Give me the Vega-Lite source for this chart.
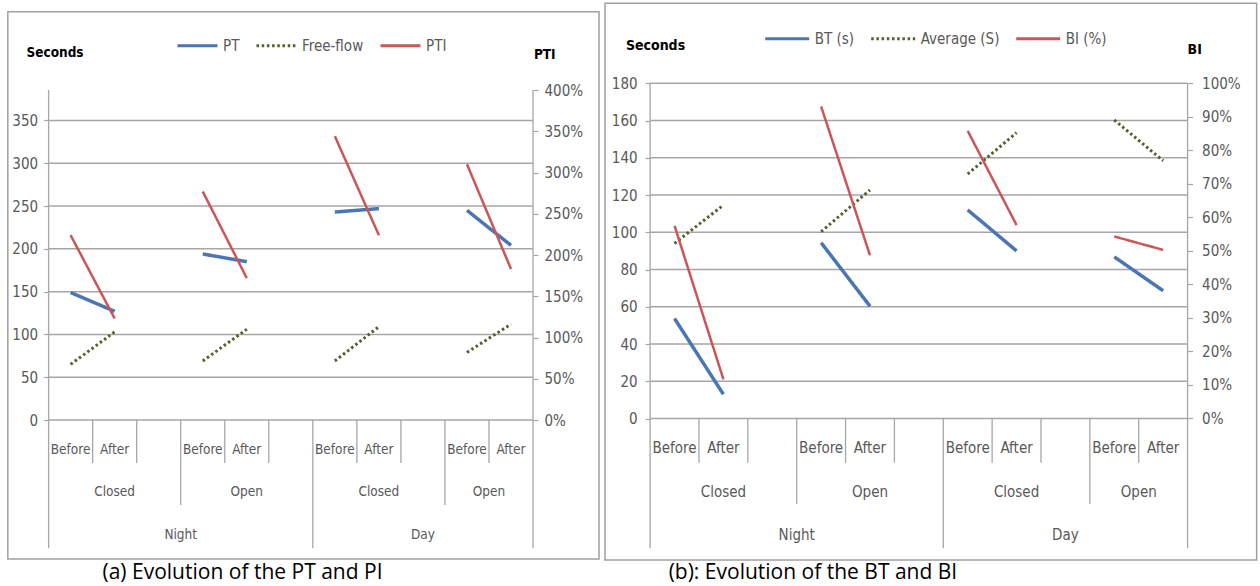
{
  "$schema": "https://vega.github.io/schema/vega-lite/v6.json",
  "background": "white",
  "padding": 0,
  "spacing": 0,
  "config": {
    "view": {"stroke": null},
    "concat": {"spacing": 0},
    "axis": {
      "domain": false,
      "grid": false,
      "title": null,
      "tickSize": 5,
      "tickColor": "#a6a6a6",
      "tickWidth": 1.2,
      "labelFont": "DejaVu Sans Condensed, Liberation Sans, sans-serif",
      "labelFontSize": 15,
      "labelColor": "#595959",
      "labelPadding": 6
    },
    "legend": {
      "labelFont": "DejaVu Sans Condensed, Liberation Sans, sans-serif",
      "labelFontSize": 15,
      "labelColor": "#595959",
      "symbolStrokeWidth": 3,
      "symbolType": "stroke",
      "columnPadding": 10,
      "padding": 0,
      "labelOffset": 4
    }
  },
  "datasets": {
    "linesA": [
      {"series": "PT", "grp": "NC", "x": 0.5, "y": 149}, {"series": "PT", "grp": "NC", "x": 1.5, "y": 127},
      {"series": "PT", "grp": "NO", "x": 3.5, "y": 194}, {"series": "PT", "grp": "NO", "x": 4.5, "y": 185},
      {"series": "PT", "grp": "DC", "x": 6.5, "y": 243}, {"series": "PT", "grp": "DC", "x": 7.5, "y": 247},
      {"series": "PT", "grp": "DO", "x": 9.5, "y": 245}, {"series": "PT", "grp": "DO", "x": 10.5, "y": 204},
      {"series": "Free-flow", "grp": "NC", "x": 0.5, "y": 65}, {"series": "Free-flow", "grp": "NC", "x": 1.5, "y": 103},
      {"series": "Free-flow", "grp": "NO", "x": 3.5, "y": 69}, {"series": "Free-flow", "grp": "NO", "x": 4.5, "y": 106},
      {"series": "Free-flow", "grp": "DC", "x": 6.5, "y": 69}, {"series": "Free-flow", "grp": "DC", "x": 7.5, "y": 109},
      {"series": "Free-flow", "grp": "DO", "x": 9.5, "y": 79}, {"series": "Free-flow", "grp": "DO", "x": 10.5, "y": 112},
      {"series": "PTI", "grp": "NC", "x": 0.5, "y": 2.24}, {"series": "PTI", "grp": "NC", "x": 1.5, "y": 1.23},
      {"series": "PTI", "grp": "NO", "x": 3.5, "y": 2.77}, {"series": "PTI", "grp": "NO", "x": 4.5, "y": 1.72},
      {"series": "PTI", "grp": "DC", "x": 6.5, "y": 3.44}, {"series": "PTI", "grp": "DC", "x": 7.5, "y": 2.24},
      {"series": "PTI", "grp": "DO", "x": 9.5, "y": 3.10}, {"series": "PTI", "grp": "DO", "x": 10.5, "y": 1.83}
    ],
    "linesB": [
      {"series": "BT (s)", "grp": "NC", "x": 0.5, "y": 53.7}, {"series": "BT (s)", "grp": "NC", "x": 1.5, "y": 13},
      {"series": "BT (s)", "grp": "NO", "x": 3.5, "y": 94.4}, {"series": "BT (s)", "grp": "NO", "x": 4.5, "y": 60.3},
      {"series": "BT (s)", "grp": "DC", "x": 6.5, "y": 112}, {"series": "BT (s)", "grp": "DC", "x": 7.5, "y": 90},
      {"series": "BT (s)", "grp": "DO", "x": 9.5, "y": 86.8}, {"series": "BT (s)", "grp": "DO", "x": 10.5, "y": 68.6},
      {"series": "Average (S)", "grp": "NC", "x": 0.5, "y": 94}, {"series": "Average (S)", "grp": "NC", "x": 1.5, "y": 114.6},
      {"series": "Average (S)", "grp": "NO", "x": 3.5, "y": 100.3}, {"series": "Average (S)", "grp": "NO", "x": 4.5, "y": 122.7},
      {"series": "Average (S)", "grp": "DC", "x": 6.5, "y": 131.3}, {"series": "Average (S)", "grp": "DC", "x": 7.5, "y": 153.5},
      {"series": "Average (S)", "grp": "DO", "x": 9.5, "y": 160.3}, {"series": "Average (S)", "grp": "DO", "x": 10.5, "y": 138.4},
      {"series": "BI (%)", "grp": "NC", "x": 0.5, "y": 0.575}, {"series": "BI (%)", "grp": "NC", "x": 1.5, "y": 0.117},
      {"series": "BI (%)", "grp": "NO", "x": 3.5, "y": 0.931}, {"series": "BI (%)", "grp": "NO", "x": 4.5, "y": 0.487},
      {"series": "BI (%)", "grp": "DC", "x": 6.5, "y": 0.858}, {"series": "BI (%)", "grp": "DC", "x": 7.5, "y": 0.577},
      {"series": "BI (%)", "grp": "DO", "x": 9.5, "y": 0.543}, {"series": "BI (%)", "grp": "DO", "x": 10.5, "y": 0.503}
    ],
    "frameA": [{"x": -0.926, "x2": 12.498, "y": -162.4, "y2": 477}],
    "frameB": [{"x": -0.923, "x2": 12.413, "y": -75.98, "y2": 222.96}],
    "gridA": [
      {"x": 0, "x2": 11, "y": 0}, {"x": 0, "x2": 11, "y": 50}, {"x": 0, "x2": 11, "y": 100}, {"x": 0, "x2": 11, "y": 150},
      {"x": 0, "x2": 11, "y": 200}, {"x": 0, "x2": 11, "y": 250}, {"x": 0, "x2": 11, "y": 300}, {"x": 0, "x2": 11, "y": 350}
    ],
    "gridB": [
      {"x": 0, "x2": 11, "y": 0}, {"x": 0, "x2": 11, "y": 20}, {"x": 0, "x2": 11, "y": 40}, {"x": 0, "x2": 11, "y": 60},
      {"x": 0, "x2": 11, "y": 80}, {"x": 0, "x2": 11, "y": 100}, {"x": 0, "x2": 11, "y": 120}, {"x": 0, "x2": 11, "y": 140},
      {"x": 0, "x2": 11, "y": 160}, {"x": 0, "x2": 11, "y": 180}
    ],
    "vrA": [
      {"x": 0, "y": 385.5, "y2": -149.9}, {"x": 11, "y": 385.5, "y2": -149.9}, {"x": 6, "y": 0, "y2": -149.9},
      {"x": 3, "y": 0, "y2": -99.3}, {"x": 9, "y": 0, "y2": -99.3},
      {"x": 1, "y": 0, "y2": -50.2}, {"x": 2, "y": 0, "y2": -50.2}, {"x": 4, "y": 0, "y2": -50.2}, {"x": 5, "y": 0, "y2": -50.2},
      {"x": 7, "y": 0, "y2": -50.2}, {"x": 8, "y": 0, "y2": -50.2}, {"x": 10, "y": 0, "y2": -50.2}
    ],
    "vrB": [
      {"x": 0, "y": 180, "y2": -69.7}, {"x": 11, "y": 180, "y2": -69.7}, {"x": 6, "y": 0, "y2": -69.7},
      {"x": 3, "y": 0, "y2": -45.9}, {"x": 9, "y": 0, "y2": -45.9},
      {"x": 1, "y": 0, "y2": -23.7}, {"x": 2, "y": 0, "y2": -23.7}, {"x": 4, "y": 0, "y2": -23.7}, {"x": 5, "y": 0, "y2": -23.7},
      {"x": 7, "y": 0, "y2": -23.7}, {"x": 8, "y": 0, "y2": -23.7}, {"x": 10, "y": 0, "y2": -23.7}
    ],
    "catA": [
      {"x": 0.5, "y": -35, "text": "Before"}, {"x": 1.5, "y": -35, "text": "After"},
      {"x": 3.5, "y": -35, "text": "Before"}, {"x": 4.5, "y": -35, "text": "After"},
      {"x": 6.5, "y": -35, "text": "Before"}, {"x": 7.5, "y": -35, "text": "After"},
      {"x": 9.5, "y": -35, "text": "Before"}, {"x": 10.5, "y": -35, "text": "After"},
      {"x": 1.5, "y": -84.5, "text": "Closed"}, {"x": 4.5, "y": -84.5, "text": "Open"},
      {"x": 7.5, "y": -84.5, "text": "Closed"}, {"x": 10, "y": -84.5, "text": "Open"},
      {"x": 3, "y": -134.3, "text": "Night"}, {"x": 8.5, "y": -134.3, "text": "Day"}
    ],
    "catB": [
      {"x": 0.5, "y": -16, "text": "Before"}, {"x": 1.5, "y": -16, "text": "After"},
      {"x": 3.5, "y": -16, "text": "Before"}, {"x": 4.5, "y": -16, "text": "After"},
      {"x": 6.5, "y": -16, "text": "Before"}, {"x": 7.5, "y": -16, "text": "After"},
      {"x": 9.5, "y": -16, "text": "Before"}, {"x": 10.5, "y": -16, "text": "After"},
      {"x": 1.5, "y": -39.3, "text": "Closed"}, {"x": 4.5, "y": -39.3, "text": "Open"},
      {"x": 7.5, "y": -39.3, "text": "Closed"}, {"x": 10, "y": -39.3, "text": "Open"},
      {"x": 3, "y": -62.6, "text": "Night"}, {"x": 8.5, "y": -62.6, "text": "Day"}
    ],
    "titA": [{"x": -0.502, "y": 428.6, "text": "Seconds"}, {"x": 11.02, "y": 426.4, "text": "PTI"}],
    "titB": [{"x": -0.495, "y": 200, "text": "Seconds"}, {"x": 11.0, "y": 197.9, "text": "BI"}],
    "capA": [{"x": 4.403, "y": -178.7, "text": "(a) Evolution of the PT and PI"}],
    "capB": [{"x": 3.332, "y": -82.97, "text": "(b): Evolution of the BT and BI"}]
  },
  "resolve": {
    "scale": {"x": "independent", "y": "independent", "color": "independent", "strokeDash": "independent"},
    "legend": {"color": "independent", "strokeDash": "independent"}
  },
  "hconcat": [
    {
      "width": 602,
      "height": 586,
      "resolve": {"scale": {"y": "independent"}, "axis": {"y": "independent"}},
      "encoding": {
        "x": {"field": "x", "type": "quantitative", "scale": {"domain": [-1.1036, 12.566], "nice": false, "zero": false}, "axis": null}
      },
      "layer": [
        {
          "data": {"name": "frameA"},
          "mark": {"type": "rect", "fill": "transparent", "stroke": "#a0a0a0", "strokeWidth": 1.5},
          "encoding": {
            "x2": {"field": "x2"},
            "y": {"field": "y", "type": "quantitative", "scale": {"domain": [-193.9, 490.7], "nice": false, "zero": false}, "axis": null},
            "y2": {"field": "y2"}
          }
        },
        {
          "data": {"name": "gridA"},
          "mark": {"type": "rule", "stroke": "#a6a6a6", "strokeWidth": 1.5},
          "encoding": {
            "x2": {"field": "x2"},
            "y": {"field": "y", "type": "quantitative", "scale": {"domain": [-193.9, 490.7], "nice": false, "zero": false},
                  "axis": {"orient": "left", "offset": -48.6, "values": [0, 50, 100, 150, 200, 250, 300, 350], "labelPadding": 6, "title": null}}
          }
        },
        {
          "data": {"name": "vrA"},
          "mark": {"type": "rule", "stroke": "#a6a6a6", "strokeWidth": 1.3},
          "encoding": {
            "y": {"field": "y", "type": "quantitative", "scale": {"domain": [-193.9, 490.7], "nice": false, "zero": false}, "axis": null},
            "y2": {"field": "y2"}
          }
        },
        {
          "data": {"name": "linesA"},
          "transform": [{"filter": "datum.series === 'PT'"}],
          "mark": {"type": "line", "strokeWidth": 3.5},
          "encoding": {
            "y": {"field": "y", "type": "quantitative", "scale": {"domain": [-193.9, 490.7], "nice": false, "zero": false}, "axis": null},
            "detail": {"field": "grp"},
            "color": {"field": "series", "type": "nominal", "scale": {"domain": ["PT", "Free-flow", "PTI"], "range": ["#4A76B4", "#4F6228", "#C9575A"]},
                      "legend": {"orient": "none", "legendX": 176, "legendY": 24, "direction": "horizontal", "title": null, "symbolSize": 1600}},
            "strokeDash": {"field": "series", "type": "nominal", "scale": {"domain": ["PT", "Free-flow", "PTI"], "range": [[1, 0], [2.5, 2.7], [1, 0]]},
                      "legend": {"orient": "none", "legendX": 176, "legendY": 24, "direction": "horizontal", "title": null, "symbolSize": 1600}}
          }
        },
        {
          "data": {"name": "linesA"},
          "transform": [{"filter": "datum.series === 'Free-flow'"}],
          "mark": {"type": "line", "strokeWidth": 3},
          "encoding": {
            "y": {"field": "y", "type": "quantitative", "scale": {"domain": [-193.9, 490.7], "nice": false, "zero": false}, "axis": null},
            "detail": {"field": "grp"},
            "color": {"field": "series", "type": "nominal", "scale": {"domain": ["PT", "Free-flow", "PTI"], "range": ["#4A76B4", "#4F6228", "#C9575A"]},
                      "legend": {"orient": "none", "legendX": 176, "legendY": 24, "direction": "horizontal", "title": null, "symbolSize": 1600}},
            "strokeDash": {"field": "series", "type": "nominal", "scale": {"domain": ["PT", "Free-flow", "PTI"], "range": [[1, 0], [2.5, 2.7], [1, 0]]},
                      "legend": {"orient": "none", "legendX": 176, "legendY": 24, "direction": "horizontal", "title": null, "symbolSize": 1600}}
          }
        },
        {
          "data": {"name": "linesA"},
          "transform": [{"filter": "datum.series === 'PTI'"}],
          "mark": {"type": "line", "strokeWidth": 2.5},
          "encoding": {
            "y": {"field": "y", "type": "quantitative", "scale": {"domain": [-2.012, 5.091], "nice": false, "zero": false},
                  "axis": {"orient": "right", "offset": -69, "values": [0, 0.5, 1, 1.5, 2, 2.5, 3, 3.5, 4], "format": ".0%", "labelPadding": 6, "title": null}},
            "detail": {"field": "grp"},
            "color": {"field": "series", "type": "nominal", "scale": {"domain": ["PT", "Free-flow", "PTI"], "range": ["#4A76B4", "#4F6228", "#C9575A"]},
                      "legend": {"orient": "none", "legendX": 176, "legendY": 24, "direction": "horizontal", "title": null, "symbolSize": 1600}},
            "strokeDash": {"field": "series", "type": "nominal", "scale": {"domain": ["PT", "Free-flow", "PTI"], "range": [[1, 0], [2.5, 2.7], [1, 0]]},
                      "legend": {"orient": "none", "legendX": 176, "legendY": 24, "direction": "horizontal", "title": null, "symbolSize": 1600}}
          }
        },
        {
          "data": {"name": "catA"},
          "mark": {"type": "text", "align": "center", "baseline": "middle", "font": "DejaVu Sans Condensed, Liberation Sans, sans-serif", "fontSize": 13.5, "color": "#595959"},
          "encoding": {
            "y": {"field": "y", "type": "quantitative", "scale": {"domain": [-193.9, 490.7], "nice": false, "zero": false}, "axis": null},
            "text": {"field": "text"}
          }
        },
        {
          "data": {"name": "titA"},
          "mark": {"type": "text", "align": "left", "baseline": "middle", "font": "DejaVu Sans Condensed, Liberation Sans, sans-serif", "fontSize": 13.5, "fontWeight": "bold", "color": "#000000"},
          "encoding": {
            "y": {"field": "y", "type": "quantitative", "scale": {"domain": [-193.9, 490.7], "nice": false, "zero": false}, "axis": null},
            "text": {"field": "text"}
          }
        },
        {
          "data": {"name": "capA"},
          "mark": {"type": "text", "align": "center", "baseline": "middle", "font": "Open Sans, Liberation Sans, sans-serif", "fontSize": 21, "color": "#000000"},
          "encoding": {
            "y": {"field": "y", "type": "quantitative", "scale": {"domain": [-193.9, 490.7], "nice": false, "zero": false}, "axis": null},
            "text": {"field": "text"}
          }
        }
      ]
    },
    {
      "width": 658,
      "height": 586,
      "resolve": {"scale": {"y": "independent"}, "axis": {"y": "independent"}},
      "encoding": {
        "x": {"field": "x", "type": "quantitative", "scale": {"domain": [-0.9844, 12.482], "nice": false, "zero": false}, "axis": null}
      },
      "layer": [
        {
          "data": {"name": "frameB"},
          "mark": {"type": "rect", "fill": "transparent", "stroke": "#a0a0a0", "strokeWidth": 1.5},
          "encoding": {
            "x2": {"field": "x2"},
            "y": {"field": "y", "type": "quantitative", "scale": {"domain": [-89.94, 224.73], "nice": false, "zero": false}, "axis": null},
            "y2": {"field": "y2"}
          }
        },
        {
          "data": {"name": "gridB"},
          "mark": {"type": "rule", "stroke": "#a6a6a6", "strokeWidth": 1.5},
          "encoding": {
            "x2": {"field": "x2"},
            "y": {"field": "y", "type": "quantitative", "scale": {"domain": [-89.94, 224.73], "nice": false, "zero": false},
                  "axis": {"orient": "left", "offset": -48.1, "values": [0, 20, 40, 60, 80, 100, 120, 140, 160, 180], "labelPadding": 8, "title": null}}
          }
        },
        {
          "data": {"name": "vrB"},
          "mark": {"type": "rule", "stroke": "#a6a6a6", "strokeWidth": 1.3},
          "encoding": {
            "y": {"field": "y", "type": "quantitative", "scale": {"domain": [-89.94, 224.73], "nice": false, "zero": false}, "axis": null},
            "y2": {"field": "y2"}
          }
        },
        {
          "data": {"name": "linesB"},
          "transform": [{"filter": "datum.series === 'BT (s)'"}],
          "mark": {"type": "line", "strokeWidth": 3.5},
          "encoding": {
            "y": {"field": "y", "type": "quantitative", "scale": {"domain": [-89.94, 224.73], "nice": false, "zero": false}, "axis": null},
            "detail": {"field": "grp"},
            "color": {"field": "series", "type": "nominal", "scale": {"domain": ["BT (s)", "Average (S)", "BI (%)"], "range": ["#4A76B4", "#4F6228", "#C9575A"]},
                      "legend": {"orient": "none", "legendX": 161.7, "legendY": 15, "direction": "horizontal", "title": null, "symbolSize": 1936}},
            "strokeDash": {"field": "series", "type": "nominal", "scale": {"domain": ["BT (s)", "Average (S)", "BI (%)"], "range": [[1, 0], [2.5, 2.7], [1, 0]]},
                      "legend": {"orient": "none", "legendX": 161.7, "legendY": 15, "direction": "horizontal", "title": null, "symbolSize": 1936}}
          }
        },
        {
          "data": {"name": "linesB"},
          "transform": [{"filter": "datum.series === 'Average (S)'"}],
          "mark": {"type": "line", "strokeWidth": 3},
          "encoding": {
            "y": {"field": "y", "type": "quantitative", "scale": {"domain": [-89.94, 224.73], "nice": false, "zero": false}, "axis": null},
            "detail": {"field": "grp"},
            "color": {"field": "series", "type": "nominal", "scale": {"domain": ["BT (s)", "Average (S)", "BI (%)"], "range": ["#4A76B4", "#4F6228", "#C9575A"]},
                      "legend": {"orient": "none", "legendX": 161.7, "legendY": 15, "direction": "horizontal", "title": null, "symbolSize": 1936}},
            "strokeDash": {"field": "series", "type": "nominal", "scale": {"domain": ["BT (s)", "Average (S)", "BI (%)"], "range": [[1, 0], [2.5, 2.7], [1, 0]]},
                      "legend": {"orient": "none", "legendX": 161.7, "legendY": 15, "direction": "horizontal", "title": null, "symbolSize": 1936}}
          }
        },
        {
          "data": {"name": "linesB"},
          "transform": [{"filter": "datum.series === 'BI (%)'"}],
          "mark": {"type": "line", "strokeWidth": 2.5},
          "encoding": {
            "y": {"field": "y", "type": "quantitative", "scale": {"domain": [-0.4997, 1.2485], "nice": false, "zero": false},
                  "axis": {"orient": "right", "offset": -72.4, "values": [0, 0.1, 0.2, 0.3, 0.4, 0.5, 0.6, 0.7, 0.8, 0.9, 1], "format": ".0%", "labelPadding": 9, "title": null}},
            "detail": {"field": "grp"},
            "color": {"field": "series", "type": "nominal", "scale": {"domain": ["BT (s)", "Average (S)", "BI (%)"], "range": ["#4A76B4", "#4F6228", "#C9575A"]},
                      "legend": {"orient": "none", "legendX": 161.7, "legendY": 15, "direction": "horizontal", "title": null, "symbolSize": 1936}},
            "strokeDash": {"field": "series", "type": "nominal", "scale": {"domain": ["BT (s)", "Average (S)", "BI (%)"], "range": [[1, 0], [2.5, 2.7], [1, 0]]},
                      "legend": {"orient": "none", "legendX": 161.7, "legendY": 15, "direction": "horizontal", "title": null, "symbolSize": 1936}}
          }
        },
        {
          "data": {"name": "catB"},
          "mark": {"type": "text", "align": "center", "baseline": "middle", "font": "DejaVu Sans Condensed, Liberation Sans, sans-serif", "fontSize": 15, "color": "#595959"},
          "encoding": {
            "y": {"field": "y", "type": "quantitative", "scale": {"domain": [-89.94, 224.73], "nice": false, "zero": false}, "axis": null},
            "text": {"field": "text"}
          }
        },
        {
          "data": {"name": "titB"},
          "mark": {"type": "text", "align": "left", "baseline": "middle", "font": "DejaVu Sans Condensed, Liberation Sans, sans-serif", "fontSize": 14, "fontWeight": "bold", "color": "#000000"},
          "encoding": {
            "y": {"field": "y", "type": "quantitative", "scale": {"domain": [-89.94, 224.73], "nice": false, "zero": false}, "axis": null},
            "text": {"field": "text"}
          }
        },
        {
          "data": {"name": "capB"},
          "mark": {"type": "text", "align": "center", "baseline": "middle", "font": "Open Sans, Liberation Sans, sans-serif", "fontSize": 21, "color": "#000000"},
          "encoding": {
            "y": {"field": "y", "type": "quantitative", "scale": {"domain": [-89.94, 224.73], "nice": false, "zero": false}, "axis": null},
            "text": {"field": "text"}
          }
        }
      ]
    }
  ]
}
